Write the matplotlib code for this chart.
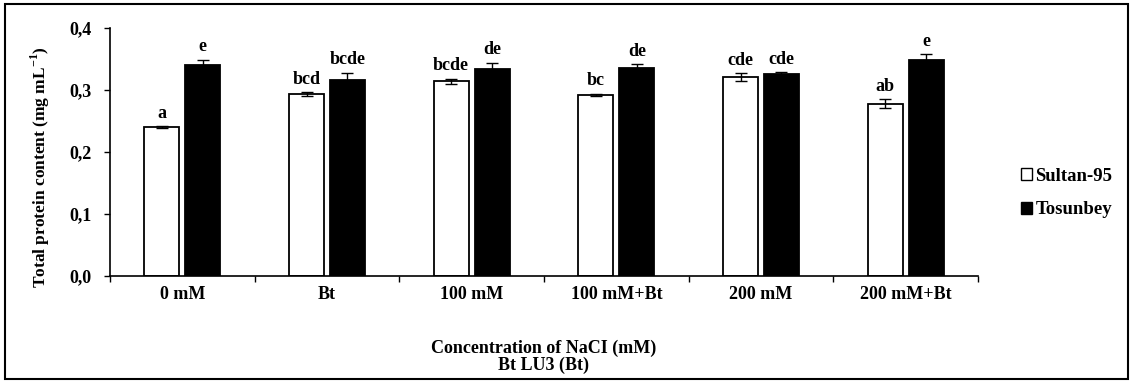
import matplotlib
matplotlib.use("Agg")
import matplotlib.pyplot as plt
import numpy as np
from matplotlib.patches import Patch, Rectangle

categories = ["0 mM", "Bt", "100 mM", "100 mM+Bt", "200 mM", "200 mM+Bt"]
sultan = [0.240, 0.293, 0.314, 0.292, 0.321, 0.278]
sultan_err = [0.002, 0.003, 0.004, 0.002, 0.006, 0.007]
tosunbey = [0.341, 0.316, 0.334, 0.335, 0.326, 0.348]
tosunbey_err = [0.008, 0.012, 0.010, 0.007, 0.003, 0.010]
sultan_letters = ["a", "bcd", "bcde", "bc", "cde", "ab"]
tosunbey_letters = ["e", "bcde", "de", "de", "cde", "e"]
yticks = [0.0, 0.1, 0.2, 0.3, 0.4]
ytick_labels = ["0,0", "0,1", "0,2", "0,3", "0,4"]

plt.rcParams['font.family'] = ['Liberation Serif', 'DejaVu Serif']
plt.rcParams['font.weight'] = 'bold'
plt.rcParams['mathtext.fontset'] = 'custom'
plt.rcParams['mathtext.rm'] = 'Liberation Serif:bold'
plt.rcParams['mathtext.bf'] = 'Liberation Serif:bold'

fig = plt.figure(figsize=(11.32, 3.83), dpi=100)
ax = fig.add_axes([110/1132, 1-276/383, (978-110)/1132, (276-28)/383])

x = np.arange(len(categories))
w = 0.243
gap = 0.02
xs = x - w/2 - gap
xt = x + w/2 + gap
ax.bar(xs, sultan, w, color='white', edgecolor='black', linewidth=1.3,
       yerr=sultan_err, error_kw=dict(ecolor='black', elinewidth=1, capsize=4, capthick=1),
       label='Sultan-95', zorder=2)
ax.bar(xt, tosunbey, w, color='black', edgecolor='black', linewidth=1.3,
       yerr=tosunbey_err, error_kw=dict(ecolor='black', elinewidth=1, capsize=4, capthick=1),
       label='Tosunbey', zorder=2)

fs = 13
for xi, v, e, t in zip(xs, sultan, sultan_err, sultan_letters):
    ax.text(xi, v + e + 0.007, t, ha='center', va='bottom', fontsize=fs, fontweight='bold')
for xi, v, e, t in zip(xt, tosunbey, tosunbey_err, tosunbey_letters):
    ax.text(xi, v + e + 0.007, t, ha='center', va='bottom', fontsize=fs, fontweight='bold')

ax.set_xlim(-0.5, len(categories) - 0.5)
ax.set_ylim(0, 0.4)
ax.set_yticks(yticks)
ax.set_yticklabels(ytick_labels, fontsize=fs, fontweight='bold')
ax.set_xticks(x)
ax.set_xticklabels(categories, fontsize=fs, fontweight='bold')
ax.tick_params(axis='x', which='major', length=0, pad=7)
ax.set_xticks(np.arange(len(categories) + 1) - 0.5, minor=True)
ax.tick_params(axis='x', which='minor', length=4, direction='out', width=1)
ax.tick_params(axis='y', length=4, direction='out', width=1, pad=9)
for s in ['top', 'right']:
    ax.spines[s].set_visible(False)
for s in ['left', 'bottom']:
    ax.spines[s].set_linewidth(1.2)

fig.text(40/1132, 1-167/383, "Total protein content (mg mL$^{-1}$)", rotation=90,
         ha='center', va='center', fontsize=12.5, fontweight='bold')
fig.text((110+978)/2/1132, 1-357/383, "Concentration of NaCI (mM)\nBt LU3 (Bt)",
         ha='center', va='center', fontsize=fs, fontweight='bold', linespacing=1.0)

handles = [Patch(facecolor='white', edgecolor='black', linewidth=1, label='Sultan-95'),
           Patch(facecolor='black', edgecolor='black', linewidth=1, label='Tosunbey')]
fig.legend(handles=handles, loc='center left', bbox_to_anchor=(1013/1132, 1-193/383),
           frameon=False, fontsize=13.5, handlelength=0.6, handleheight=0.6,
           handletextpad=0.2, labelspacing=0.9, borderaxespad=0)

fig.patches.append(Rectangle((5/1132, 4/383), 1123/1132, 375/383, transform=fig.transFigure,
                             fill=False, edgecolor='black', linewidth=1.5))

fig.savefig("out.png", dpi=100, facecolor='white')
